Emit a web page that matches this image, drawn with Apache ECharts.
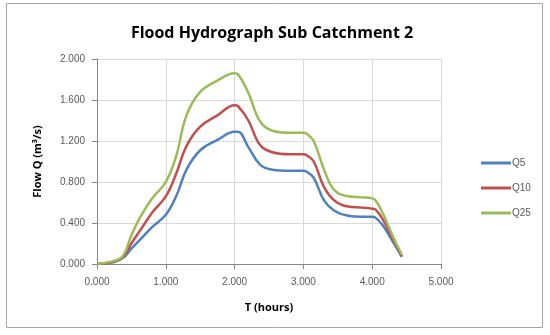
<!DOCTYPE html>
<html>
<head>
<meta charset="utf-8">
<script src="https://cdn.jsdelivr.net/npm/echarts@6/dist/echarts.min.js"></script>
<style>
  html, body { margin: 0; padding: 0; background: #fff; }
  #chart { width: 550px; height: 335px; }
</style>
</head>
<body>
<div id="chart"></div>
<script>
// time in hours
const hours = [0, 0.25, 0.38, 0.5, 0.63, 0.8, 1.0, 1.15, 1.3, 1.5, 1.75, 2.0, 2.05, 2.2, 2.37, 2.55, 2.8, 3.0, 3.05, 3.15, 3.3, 3.45, 3.65, 3.85, 4.0, 4.05, 4.15, 4.28, 4.43];
const q5 = [0, 0.02, 0.06, 0.15, 0.24, 0.36, 0.48, 0.66, 0.92, 1.11, 1.21, 1.29, 1.29, 1.14, 0.97, 0.92, 0.91, 0.91, 0.90, 0.84, 0.62, 0.52, 0.47, 0.46, 0.46, 0.45, 0.38, 0.24, 0.07];
const q10 = [0, 0.025, 0.07, 0.2, 0.33, 0.5, 0.66, 0.88, 1.15, 1.34, 1.45, 1.55, 1.54, 1.40, 1.16, 1.09, 1.07, 1.07, 1.06, 1.0, 0.75, 0.62, 0.56, 0.55, 0.54, 0.53, 0.44, 0.27, 0.08];
const q25 = [0, 0.03, 0.08, 0.28, 0.46, 0.64, 0.80, 1.05, 1.45, 1.68, 1.79, 1.86, 1.85, 1.67, 1.39, 1.30, 1.28, 1.28, 1.27, 1.2, 0.92, 0.72, 0.66, 0.65, 0.64, 0.62, 0.5, 0.3, 0.09];
const seriesNames = ['Q5', 'Q10', 'Q25'];
const seriesColors = ['#4f81bd', '#c0504d', '#9bbb59'];

const pair = (ys) => hours.map((t, i) => [t, ys[i]]);
const fmt = (v) => v.toFixed(3);

const myChart = echarts.init(document.getElementById('chart'));
const labelStyle = { color: '#595959', fontFamily: 'Liberation Sans', fontSize: 10 };

const option = {
  animation: false,
  title: {
    text: 'Flood Hydrograph Sub Catchment 2',
    left: 267,
    textAlign: 'center',
    top: 20,
    textStyle: { fontFamily: 'Open Sans', fontWeight: 'bold', fontSize: 16, color: '#000' },
  },
  graphic: [{
    type: 'rect',
    shape: { x: 6.5, y: 3.5, width: 536, height: 324 },
    style: { fill: 'none', stroke: '#a6a6a6', lineWidth: 1 },
    silent: true,
  }],
  legend: {
    orient: 'vertical',
    left: 476,
    top: 153,
    itemGap: 15,
    itemWidth: 30,
    itemHeight: 3,
    icon: 'rect',
    textStyle: { color: '#595959', fontFamily: 'Liberation Sans', fontSize: 10, padding: [0, 0, 0, -4] },
    data: seriesNames,
  },
  grid: { left: 97, right: 109, top: 59, bottom: 71 },
  xAxis: {
    type: 'value',
    min: 0,
    max: 5,
    interval: 1,
    name: 'T (hours)',
    nameLocation: 'middle',
    nameGap: 38,
    nameTextStyle: { fontFamily: 'Open Sans', fontWeight: 'bold', fontSize: 11, color: '#000' },
    axisLine: { lineStyle: { color: '#868686' } },
    axisTick: { show: true, length: 5, lineStyle: { color: '#868686' } },
    axisLabel: Object.assign({ formatter: fmt, margin: 13 }, labelStyle),
    splitLine: { show: true, lineStyle: { color: '#d9d9d9' } },
  },
  yAxis: {
    type: 'value',
    min: 0,
    max: 2,
    interval: 0.4,
    name: 'Flow Q (m³/s)',
    nameLocation: 'middle',
    nameGap: 54,
    nameRotate: 90,
    nameTextStyle: { fontFamily: 'Open Sans', fontWeight: 'bold', fontSize: 11, color: '#000' },
    axisLine: { show: true, lineStyle: { color: '#868686' } },
    axisTick: { show: true, length: 5, lineStyle: { color: '#868686' } },
    axisLabel: Object.assign({ formatter: fmt, margin: 12 }, labelStyle),
    splitLine: { show: true, lineStyle: { color: '#d9d9d9' } },
  },
  series: [q5, q10, q25].map((ys, i) => ({
    name: seriesNames[i],
    type: 'line',
    smooth: 0.4,
    showSymbol: false,
    data: pair(ys),
    lineStyle: { width: 2.5, color: seriesColors[i] },
    itemStyle: { color: seriesColors[i] },
  })),
};
myChart.setOption(option);
</script>
</body>
</html>
